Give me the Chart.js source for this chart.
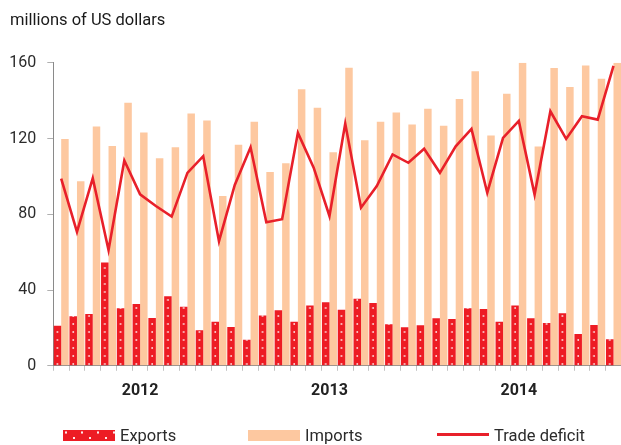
<!DOCTYPE html>
<html>
<head>
<meta charset="utf-8">
<title>Trade</title>
<script src="https://cdn.jsdelivr.net/npm/chart.js@4.4.1/dist/chart.umd.min.js"></script>
<style>
html, body { margin: 0; padding: 0; background: #fff; overflow: hidden; }
#wrap { position: relative; width: 624px; height: 445px; }
#legend {
    position: absolute; left: 0; top: 425px; width: 624px; height: 20px;
    font-family: Roboto, 'Noto Sans', sans-serif;
    font-size: 16.5px; color: #2b2b2b;
}
#legend .item { position: absolute; top: 0; height: 20px; display: flex; align-items: center; }
#legend .item:nth-child(1) { left: 63px; }
#legend .item:nth-child(2) { left: 248px; }
#legend .item:nth-child(3) { left: 437px; }
#legend .swatch { width: 52px; height: 11px; margin-right: 5px; }
#legend .swatch.dots {
    background-color: #ed1c24;
    background-image:
        radial-gradient(circle at 3px 2.5px, rgba(255,255,255,0.9) 0 0.9px, transparent 1.4px),
        radial-gradient(circle at 11px 8px, rgba(255,255,255,0.9) 0 0.9px, transparent 1.4px);
    background-size: 16px 11px;
}
#legend .swatch.line { height: 3px; margin-top: -1px; }
</style>
</head>
<body>
<div id="wrap">
    <canvas id="tradeChart"></canvas>
    <div id="legend"></div>
</div>

<script>
// =======================
// DATA
// =======================
const months = [
    "Jan 2012","Feb 2012","Mar 2012","Apr 2012","May 2012","Jun 2012",
    "Jul 2012","Aug 2012","Sep 2012","Oct 2012","Nov 2012","Dec 2012",
    "Jan 2013","Feb 2013","Mar 2013","Apr 2013","May 2013","Jun 2013",
    "Jul 2013","Aug 2013","Sep 2013","Oct 2013","Nov 2013","Dec 2013",
    "Jan 2014","Feb 2014","Mar 2014","Apr 2014","May 2014","Jun 2014",
    "Jul 2014","Aug 2014","Sep 2014","Oct 2014","Nov 2014","Dec 2014"
];

const years = ["2012", "2013", "2014"];

const exportsData = [
    21.2, 26.1, 27.4, 54.6, 30.4, 32.6, 25.3, 36.7, 31.2, 18.8, 23.3, 20.5,
    13.7, 26.5, 29.3, 23.2, 31.9, 33.5, 29.6, 35.4, 33.2, 21.9, 20.4, 21.4,
    25.1, 24.7, 30.4, 30.0, 23.2, 31.9, 25.1, 22.6, 27.7, 16.8, 21.6, 14.0
];

const importsData = [
    119.8, 97.4, 126.3, 116.1, 138.9, 123.2, 109.6, 115.4, 133.2, 129.5, 89.6, 116.7,
    128.9, 102.3, 107.0, 146.0, 136.3, 112.8, 157.4, 119.1, 128.9, 133.7, 127.4, 135.8,
    126.8, 140.9, 155.6, 121.6, 143.7, 160.0, 115.8, 157.2, 147.2, 158.6, 151.6, 160.0
];

const deficitData = [
    98.8, 70.7, 99.1, 61.1, 108.4, 90.5, 84.4, 78.8, 101.9, 110.7, 65.8, 95.5,
    115.4, 75.8, 77.4, 123.0, 104.6, 79.1, 127.9, 83.5, 94.9, 111.6, 107.2, 114.6,
    101.9, 115.9, 125.1, 91.4, 120.4, 129.3, 90.4, 134.4, 119.8, 131.8, 130.0, 158.4
];

const yTicks = [0, 40, 80, 120, 160];

// =======================
// STYLE
// =======================
const FONT = "Roboto, 'Noto Sans', sans-serif";
const RED = "#ed1c24";
const LINE_RED = "#e8202a";
const PEACH = "#fdc8a0";

Chart.defaults.font.family = FONT;
Chart.defaults.color = "#2b2b2b";

// dotted fill for the export bars, stretched so one dot column sits in each bar
let dotPattern = null;
let dotKey = "";

function exportFill(context) {
    const area = context.chart.chartArea;
    if (!area) return RED;

    const key = area.left + ":" + area.width;
    if (dotPattern && dotKey === key) return dotPattern;

    const tile = document.createElement("canvas");
    tile.width = 16;
    tile.height = 8;
    const t = tile.getContext("2d");
    t.fillStyle = RED;
    t.fillRect(0, 0, 16, 8);
    t.fillStyle = "rgba(255,255,255,0.85)";
    t.beginPath();
    t.arc(4.2, 4, 0.95, 0, Math.PI * 2);
    t.fill();

    const ctx = context.chart.ctx;
    dotPattern = ctx.createPattern(tile, "repeat");
    const cw = area.width / months.length;
    dotPattern.setTransform(new DOMMatrix([cw / 16, 0, 0, 1, area.left, 0]));
    dotKey = key;
    return dotPattern;
}

// =======================
// CHART
// =======================
function initTradeChart() {

    const chart = new Chart(document.getElementById("tradeChart"), {
        type: "bar",
        data: {
            labels: months,
            datasets: [
                {
                    label: "Exports",
                    data: exportsData,
                    backgroundColor: exportFill,
                    legendStyle: "dots",
                    order: 1
                },
                {
                    label: "Imports",
                    data: importsData,
                    backgroundColor: PEACH,
                    legendStyle: "solid",
                    order: 1
                },
                {
                    type: "line",
                    label: "Trade deficit",
                    data: deficitData,
                    borderColor: LINE_RED,
                    backgroundColor: LINE_RED,
                    borderWidth: 2.6,
                    pointRadius: 0,
                    tension: 0,
                    legendStyle: "line",
                    order: 0
                }
            ]
        },
        options: {
            responsive: true,
            maintainAspectRatio: false,
            animation: false,
            datasets: {
                bar: { barPercentage: 1, categoryPercentage: 0.95 }
            },
            layout: {
                padding: { left: 10, right: 0, top: 0, bottom: 34 }
            },
            plugins: {
                legend: { display: false },
                tooltip: { enabled: false },
                title: {
                    display: true,
                    text: "millions of US dollars",
                    align: "start",
                    color: "#1a1a1a",
                    font: { size: 16.5, weight: "normal" },
                    padding: { top: 11, bottom: 32 }
                }
            },
            scales: {
                x: {
                    grid: {
                        offset: true,
                        drawOnChartArea: false,
                        tickLength: 5,
                        color: "#c4c4c4"
                    },
                    border: { color: "#8a8a8a" },
                    ticks: {
                        autoSkip: false,
                        maxRotation: 0,
                        padding: 10.5,
                        color: "#222",
                        font: { size: 16, weight: "bold" },
                        callback: (v, i) => (i % 12 === 5 ? years[Math.floor(i / 12)] : "")
                    }
                },
                y: {
                    min: 0,
                    max: 160,
                    afterFit: scale => { scale.width = 43.3; },
                    afterBuildTicks: scale => {
                        scale.ticks = yTicks.map(v => ({ value: v }));
                    },
                    grid: {
                        drawOnChartArea: false,
                        tickLength: 6,
                        color: "#b0b0b0"
                    },
                    border: { color: "#8a8a8a" },
                    ticks: {
                        padding: 11,
                        color: "#2b2b2b",
                        font: { size: 16 }
                    }
                }
            }
        }
    });

    buildLegend(chart);
}

// =======================
// LEGEND
// =======================
function buildLegend(chart) {
    const box = document.getElementById("legend");

    chart.data.datasets.forEach(ds => {
        const item = document.createElement("div");
        item.className = "item";

        const sw = document.createElement("span");
        sw.className = "swatch";
        if (ds.legendStyle === "dots") sw.classList.add("dots");
        else if (ds.legendStyle === "line") {
            sw.classList.add("line");
            sw.style.background = ds.borderColor;
        } else sw.style.background = ds.backgroundColor;

        const txt = document.createElement("span");
        txt.textContent = ds.label;

        item.appendChild(sw);
        item.appendChild(txt);
        box.appendChild(item);
    });
}

initTradeChart();
</script>
</body>
</html>
